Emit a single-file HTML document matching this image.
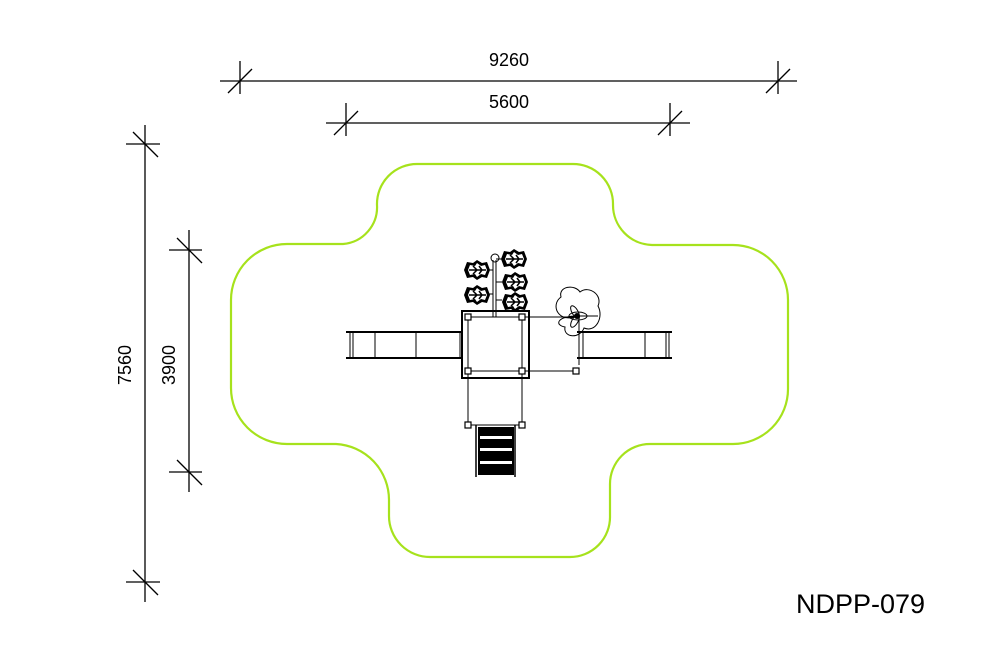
<!DOCTYPE html>
<html><head><meta charset="utf-8"><style>
html,body{margin:0;padding:0;background:#fff;}
svg{display:block;}
text{font-family:"Liberation Sans","DejaVu Sans",sans-serif;fill:#000;}
</style></head><body>
<svg width="1000" height="666" viewBox="0 0 1000 666" xmlns="http://www.w3.org/2000/svg">
<defs>
<g id="leaf">
<path d="M-13,0 L-10,-8 L-4,-7 L0,-10 L5,-7 L10,-8 L13,0 L10,8 L5,7 L0,10 L-4,7 L-10,8 Z" fill="#000"/>
<path d="M-9,0 L-7,-5 L-2,-4 L0,-7 L4,-4 L8,-5 L10,0 L8,5 L4,4 L0,7 L-2,4 L-7,5 Z" fill="#fff"/>
<path d="M-8,0 L9,0 M-4,-4 L0,0 L-4,4 M2,-4 L5,0 L2,4" stroke="#000" fill="none" stroke-width="1.5"/>
</g>
</defs>
<path d="M417,164 L572,164 A40,40 0 0 1 613,205 A40,40 0 0 0 652,245 L733,245 A55,55 0 0 1 788,300 L788,389 A55,55 0 0 1 733,444 L650,444 A40,40 0 0 0 610,484 L610,516 A40,40 0 0 1 570,557 L430,557 A41,41 0 0 1 389,516 L389,500 A56,56 0 0 0 336,444 L287,444 A56,56 0 0 1 231,388 L231,300 A56,56 0 0 1 287,244 L343,244 A37,37 0 0 0 377,205 A40,40 0 0 1 417,164 Z" fill="none" stroke="#a6e21c" stroke-width="2.2"/>
<g stroke="#000" fill="none" stroke-width="1.3">
<line x1="220" y1="81" x2="797" y2="81"/>
<line x1="240" y1="61" x2="240" y2="94"/><line x1="228" y1="93" x2="252" y2="69"/>
<line x1="778" y1="61" x2="778" y2="94"/><line x1="766" y1="93" x2="790" y2="69"/>
<line x1="326" y1="123" x2="690" y2="123"/>
<line x1="346" y1="103" x2="346" y2="136"/><line x1="334" y1="135" x2="358" y2="111"/>
<line x1="670" y1="103" x2="670" y2="136"/><line x1="658" y1="135" x2="682" y2="111"/>
<line x1="145" y1="125" x2="145" y2="602"/>
<line x1="126" y1="144" x2="160" y2="144"/><line x1="133" y1="132" x2="158" y2="157"/>
<line x1="126" y1="582" x2="160" y2="582"/><line x1="133" y1="570" x2="158" y2="595"/>
<line x1="189" y1="230" x2="189" y2="492"/>
<line x1="169" y1="250" x2="202" y2="250"/><line x1="177" y1="238" x2="202" y2="263"/>
<line x1="169" y1="472" x2="202" y2="472"/><line x1="177" y1="460" x2="202" y2="485"/>
</g>
<text x="509" y="66" font-size="18" text-anchor="middle">9260</text>
<text x="509" y="108" font-size="18" text-anchor="middle">5600</text>
<text transform="translate(131,365) rotate(-90)" font-size="18" text-anchor="middle">7560</text>
<text transform="translate(175,365) rotate(-90)" font-size="18" text-anchor="middle">3900</text>
<text x="796" y="613" font-size="27">NDPP-079</text>
<g stroke="#000" fill="none">
<line x1="346" y1="332" x2="468" y2="332" stroke-width="2"/>
<line x1="346" y1="358" x2="468" y2="358" stroke-width="2"/>
<g stroke-width="1"><line x1="350" y1="332" x2="350" y2="358"/><line x1="353" y1="332" x2="353" y2="358"/><line x1="375" y1="332" x2="375" y2="358"/><line x1="416" y1="332" x2="416" y2="358"/><line x1="460" y1="332" x2="460" y2="358"/><line x1="463" y1="332" x2="463" y2="358"/></g>
<line x1="577" y1="332" x2="672" y2="332" stroke-width="2"/>
<line x1="577" y1="358" x2="672" y2="358" stroke-width="2"/>
<g stroke-width="1"><line x1="579" y1="320" x2="579" y2="365"/><line x1="583" y1="332" x2="583" y2="358"/><line x1="645" y1="332" x2="645" y2="358"/><line x1="666" y1="332" x2="666" y2="358"/><line x1="669" y1="332" x2="669" y2="358"/></g>
<rect x="462" y="311" width="67" height="67" stroke-width="2" fill="#fff"/>
<g stroke-width="1">
<line x1="468" y1="317" x2="579" y2="317"/>
<line x1="468" y1="371" x2="576" y2="371"/>
<line x1="468" y1="317" x2="468" y2="425"/>
<line x1="522" y1="317" x2="522" y2="425"/>
<line x1="468" y1="425" x2="522" y2="425"/>
</g>
<g fill="#fff" stroke-width="1.2">
<rect x="465" y="314" width="6" height="6"/><rect x="519" y="314" width="6" height="6"/>
<rect x="465" y="368" width="6" height="6"/><rect x="519" y="368" width="6" height="6"/>
<rect x="573" y="368" width="6" height="6"/>
<rect x="465" y="422" width="6" height="6"/><rect x="519" y="422" width="6" height="6"/>
</g>
<rect x="478" y="427" width="36" height="48" fill="#000" stroke="none"/>
<line x1="476" y1="425" x2="476" y2="477" stroke-width="1.5"/>
<line x1="515" y1="425" x2="515" y2="477" stroke-width="1.5"/>
</g>
<g fill="#fff"><rect x="480" y="436" width="32" height="3"/><rect x="480" y="448" width="32" height="3"/><rect x="480" y="461" width="32" height="3"/></g>
<g stroke="#000" fill="none" stroke-width="1">
<line x1="493" y1="260" x2="493" y2="317"/><line x1="496" y1="260" x2="496" y2="317"/>
<circle cx="495" cy="258" r="4"/>
<line x1="488" y1="270" x2="493" y2="270"/><line x1="488" y1="294" x2="493" y2="294"/>
<line x1="496" y1="259" x2="502" y2="259"/><line x1="496" y1="282" x2="502" y2="282"/><line x1="496" y1="300" x2="502" y2="300"/>
</g>
<use href="#leaf" transform="translate(477,270)"/>
<use href="#leaf" transform="translate(477,295)"/>
<use href="#leaf" transform="translate(514,259)"/>
<use href="#leaf" transform="translate(515,282)"/>
<use href="#leaf" transform="translate(515,302)"/>
<g stroke="#000" fill="none" stroke-width="1">
<path d="M578,316 C558,324 550,305 561,297 C558,286 575,284 580,292 C589,285 603,295 598,306 C604,317 596,333 584,328 C580,339 563,338 565,327 C554,325 557,316 578,316 Z"/>
<ellipse cx="578" cy="316" rx="9" ry="4"/>
<ellipse cx="575" cy="312" rx="7" ry="3" transform="rotate(60 575 312)"/>
<ellipse cx="575" cy="321" rx="7" ry="3" transform="rotate(-60 575 321)"/>
<line x1="578" y1="316" x2="598" y2="316"/>
</g>
<circle cx="577" cy="316" r="3" fill="#000"/>
</svg>
</body></html>
